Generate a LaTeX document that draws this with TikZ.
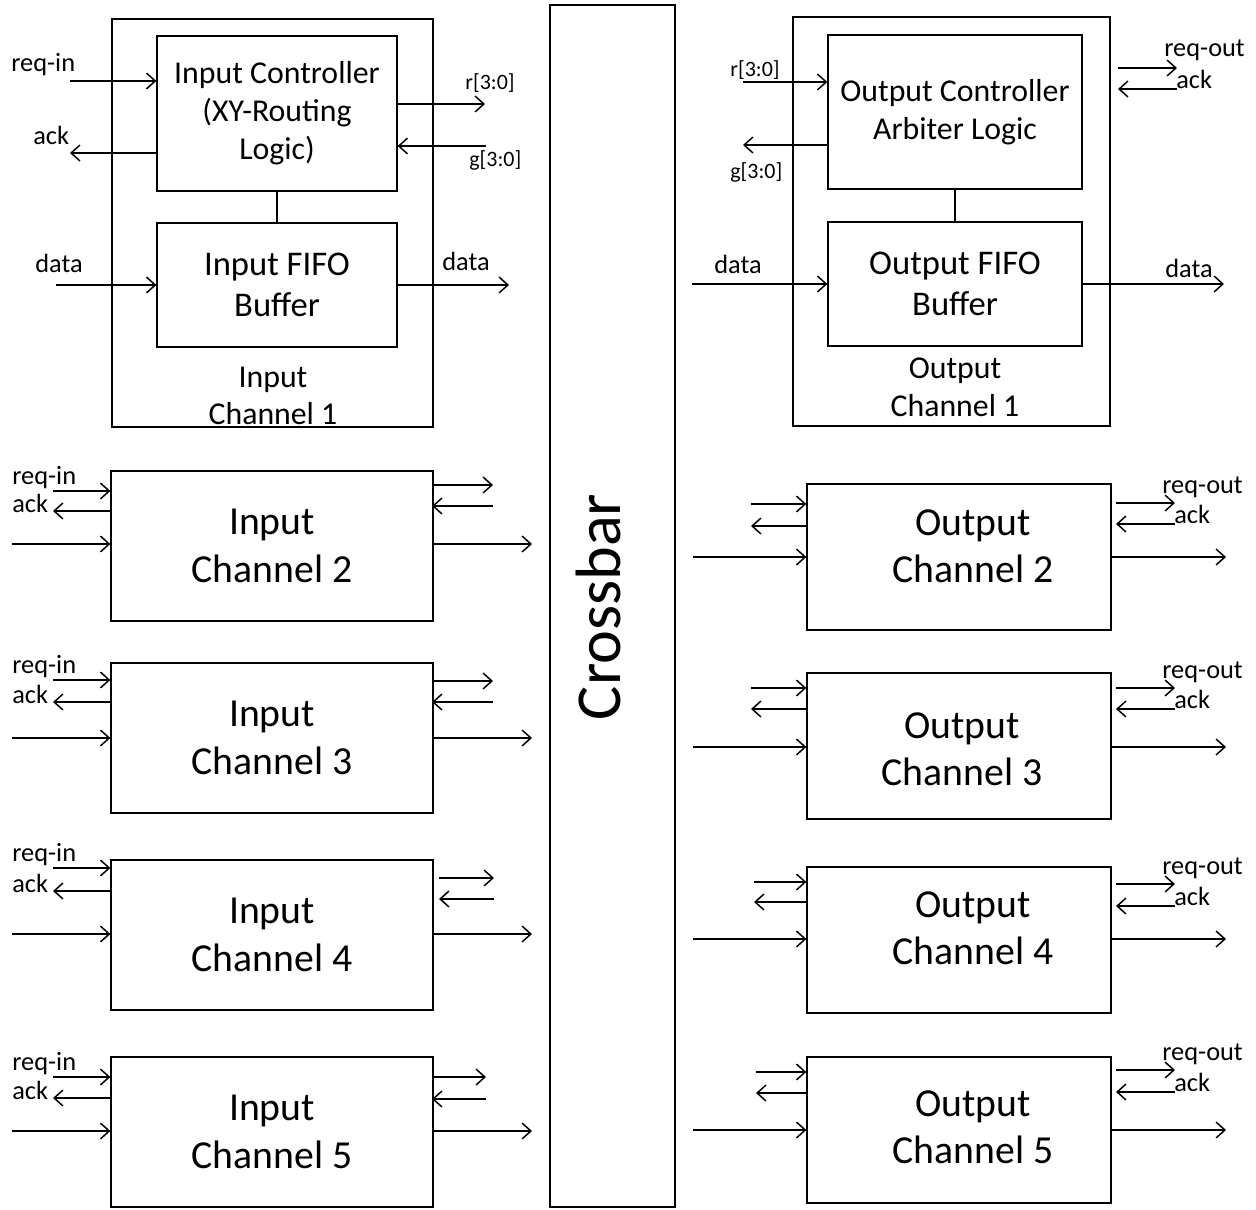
\documentclass[tikz,border=0pt]{standalone}
\usepackage{fontspec}
\setmainfont{Carlito}
\usetikzlibrary{arrows.meta}
\begin{document}
\begin{tikzpicture}[x=0.02cm,y=-0.02cm,
  box/.style={draw,line width=0.75pt,inner sep=0pt,align=center},
  arr/.style={line width=0.85pt,-{Straight Barb[length=5pt,width=9pt,line width=0.85pt]}},
  lbl/.style={inner sep=0pt,anchor=west,font=\fontsize{15}{16}\selectfont},
  sig/.style={inner sep=0pt,anchor=west,font=\fontsize{12.5}{14}\selectfont},
  ctl/.style={font=\fontsize{18.1}{21.6}\selectfont},
  fifo/.style={font=\fontsize{19.7}{23.3}\selectfont},
  chan/.style={align=center,inner sep=0pt,font=\fontsize{22.6}{27}\selectfont},
  chanone/.style={align=center,inner sep=0pt,font=\fontsize{18.1}{21.3}\selectfont},
]
\useasboundingbox (0,0) rectangle (1256,1209);

% ---------------- Input channel 1 ----------------
\node[box,minimum width=6.42cm,minimum height=8.16cm] (ic1) at (272.5,223) {};
\node[box,ctl,minimum width=4.8cm,minimum height=3.1cm] (ictl) at (277,113.5) {Input Controller\\(XY-Routing\\Logic)};
\node[box,fifo,minimum width=4.8cm,minimum height=2.48cm] (ififo) at (277,285) {Input FIFO\\Buffer};
\draw[line width=0.75pt] (ictl) -- (ififo);
\node[chanone] (ic1t) at (273,396) {Input\\Channel 1};

\coordinate (ic1rqs) at (70,81);
\draw[arr] (ic1rqs) -- (ic1rqs -| ictl.west);
\coordinate (ic1ake) at (70,153);
\draw[arr] (ic1ake -| ictl.west) -- (ic1ake);
\coordinate (ic1re) at (485,104);
\draw[arr] (ic1re -| ictl.east) -- (ic1re);
\coordinate (ic1gs) at (486,146);
\draw[arr] (ic1gs) -- (ic1gs -| ictl.east);
\coordinate (ic1ds) at (56,285);
\draw[arr] (ic1ds) -- (ififo.west);
\coordinate (ic1de) at (509,285);
\draw[arr] (ififo.east) -- (ic1de);
\node[lbl] (ic1l1) at (11,65) {req-in};
\node[lbl] (ic1l2) at (33,135) {ack};
\node[lbl] (ic1l3) at (35,263) {data};
\node[sig] (ic1l4) at (465,83) {r[3:0]};
\node[sig] (ic1l5) at (469,160) {g[3:0]};
\node[lbl] (ic1l6) at (442,261) {data};

% ---------------- Crossbar ----------------
\node[box,minimum width=2.5cm,minimum height=24.04cm] (xbar) at (612.5,606) {};
\node[rotate=90,inner sep=0pt,font=\fontsize{36.5}{40}\selectfont] (xbart) at (598,607) {Crossbar};

% ---------------- Output channel 1 ----------------
\node[box,minimum width=6.34cm,minimum height=8.18cm] (oc1) at (951.5,221.5) {};
\node[box,ctl,minimum width=5.08cm,minimum height=3.08cm] (octl) at (955,112) {Output Controller\\Arbiter Logic};
\node[box,fifo,minimum width=5.08cm,minimum height=2.48cm] (ofifo) at (955,284) {Output FIFO\\Buffer};
\draw[line width=0.75pt] (octl) -- (ofifo);
\node[chanone] (oc1t) at (955,387.5) {Output\\Channel 1};

\coordinate (oc1rs) at (743,82);
\draw[arr] (oc1rs) -- (oc1rs -| octl.west);
\coordinate (oc1ge) at (743,145);
\draw[arr] (oc1ge -| octl.west) -- (oc1ge);
\coordinate (oc1ds) at (692,284);
\draw[arr] (oc1ds) -- (ofifo.west);
\coordinate (oc1de) at (1224,284);
\draw[arr] (ofifo.east) -- (oc1de);
\coordinate (oc1qs) at (1118,68);
\coordinate (oc1qe) at (1177,68);
\draw[arr] (oc1qs) -- (oc1qe);
\coordinate (oc1as) at (1177,89);
\coordinate (oc1ae) at (1118,89);
\draw[arr] (oc1as) -- (oc1ae);
\node[sig] (oc1l1) at (730,70) {r[3:0]};
\node[sig] (oc1l2) at (730,172) {g[3:0]};
\node[lbl] (oc1l3) at (714,264) {data};
\node[lbl] (oc1l4) at (1164,50) {req-out};
\node[lbl] (oc1l5) at (1176,79) {ack};
\node[lbl] (oc1l6) at (1165,268) {data};

% ---------------- Input channels 2-5 ----------------
\foreach \n/\t/\lr/\la/\ld/\rr/\ra/\rs/\re in {
 2/471/491/511/544/485/506/432/493,
 3/663/680/702/738/681/702/432/493,
 4/860/868/891/934/878/899/439/494,
 5/1057/1077/1098/1131/1077/1099/432/486}
{
 \node[box,chan,minimum width=6.44cm,minimum height=3.0cm] (ic\n) at (272,\t+75) {Input\\Channel \n};
 \coordinate (icrq\n) at (53,\lr);
 \draw[arr] (icrq\n) -- (icrq\n -| ic\n.west);
 \coordinate (icak\n) at (53,\la);
 \draw[arr] (icak\n -| ic\n.west) -- (icak\n);
 \coordinate (icdi\n) at (12,\ld);
 \draw[arr] (icdi\n) -- (icdi\n -| ic\n.west);
 \coordinate (icrs\n) at (\rs,\rr);
 \coordinate (icre\n) at (\re,\rr);
 \draw[arr] (icrs\n) -- (icre\n);
 \coordinate (icgs\n) at (\re,\ra);
 \coordinate (icge\n) at (\rs,\ra);
 \draw[arr] (icgs\n) -- (icge\n);
 \coordinate (icdo\n) at (532,\ld);
 \draw[arr] (icdo\n -| ic\n.east) -- (icdo\n);
 \node[lbl] (iclr\n) at (12,\lr-13.5) {req-in};
 \node[lbl] (icla\n) at (12,\la-8) {ack};
}

% ---------------- Output channels 2-5 ----------------
\foreach \n/\t/\lr/\la/\ld/\rr/\ra/\ls/\tx/\ty in {
 2/484/504/526/557/503/524/751/973/546,
 3/673/688/709/747/688/709/751/962/749,
 4/867/882/902/939/884/906/754/973/928,
 5/1057/1072/1093/1130/1070/1092/756/973/1127}
{
 \node[box,minimum width=6.08cm,minimum height=2.92cm] (oc\n) at (959,\t+73) {};
 \node[chan] (oct\n) at (\tx,\ty) {Output\\Channel \n};
 \coordinate (ocrq\n) at (\ls,\lr);
 \draw[arr] (ocrq\n) -- (ocrq\n -| oc\n.west);
 \coordinate (ocak\n) at (\ls,\la);
 \draw[arr] (ocak\n -| oc\n.west) -- (ocak\n);
 \coordinate (ocdi\n) at (693,\ld);
 \draw[arr] (ocdi\n) -- (ocdi\n -| oc\n.west);
 \coordinate (ocqs\n) at (1116,\rr);
 \coordinate (ocqe\n) at (1175,\rr);
 \draw[arr] (ocqs\n) -- (ocqe\n);
 \coordinate (ocas\n) at (1175,\ra);
 \coordinate (ocae\n) at (1116,\ra);
 \draw[arr] (ocas\n) -- (ocae\n);
 \coordinate (ocdo\n) at (1226,\ld);
 \draw[arr] (ocdo\n -| oc\n.east) -- (ocdo\n);
 \node[lbl] (oclr\n) at (1162,\rr-16) {req-out};
 \node[lbl] (ocla\n) at (1174,\ra-9.5) {ack};
}
\end{tikzpicture}
\end{document}
